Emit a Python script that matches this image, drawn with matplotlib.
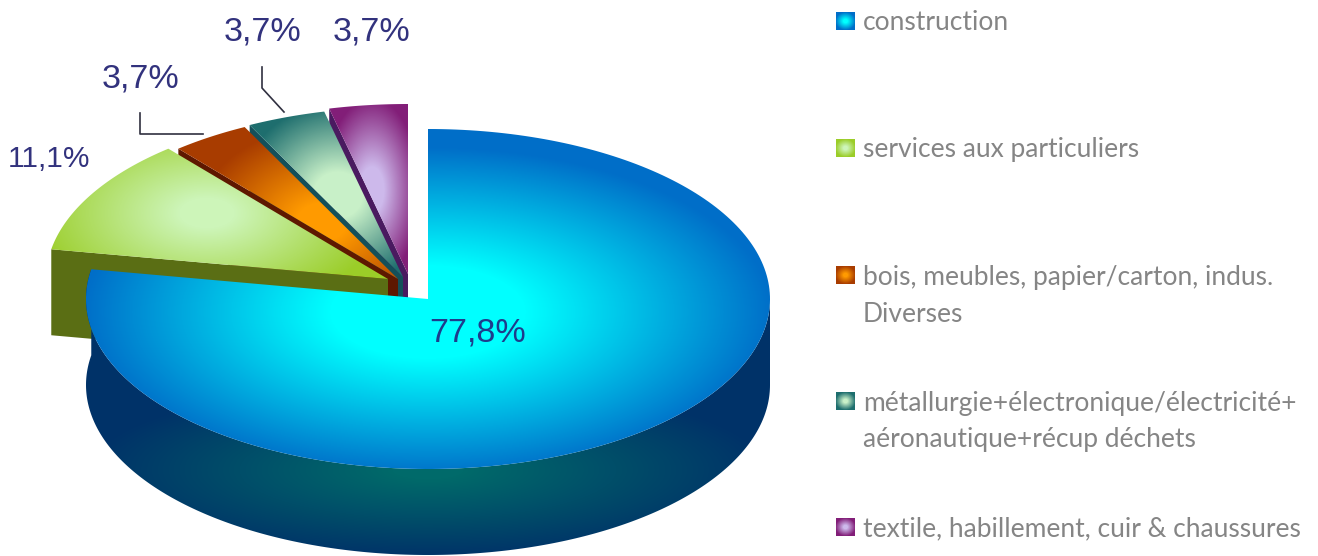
import numpy as np
import matplotlib
matplotlib.use("Agg")
import matplotlib.pyplot as plt
from matplotlib.colors import LinearSegmentedColormap
from matplotlib.patches import Polygon

# ---- data ----
categories = ["construction", "services aux particuliers",
              "bois, meubles, papier/carton, indus.\nDiverses",
              "métallurgie+électronique/électricité+\naéronautique+récup déchets",
              "textile, habillement, cuir & chaussures"]
shares = [77.8, 11.1, 3.7, 3.7, 3.7]
share_labels = ["77,8%", "11,1%", "3,7%", "3,7%", "3,7%"]

# ---- styles ----
inner_cols = ["#00ffff", "#cdf5b9", "#ff9a00", "#c8f0c8", "#cdb9eb"]
outer_cols = ["#006ec8", "#9bcd28", "#a83c00", "#1e6e6e", "#821e78"]
side_cols = ["#5a6e14", "#5e1800", "#14505a", "#4a1a60"]

W, H = 1318, 556
fig = plt.figure(figsize=(W / 100, H / 100), dpi=100, facecolor="white")
ax = fig.add_axes([0, 0, 1, 1])


def grad_face(pts, c0, c1, centre, scale, hold=0.0, z=1):
    """Fill polygon pts with an elliptical gradient from c0 to c1."""
    pts = np.asarray(pts)
    x0, y0 = np.floor(pts.min(axis=0)) - 2
    x1, y1 = np.ceil(pts.max(axis=0)) + 2
    xx, yy = np.meshgrid(np.arange(x0, x1) + .5, np.arange(y0, y1) + .5)
    t = np.hypot((xx - centre[0]) / scale[0], (yy - centre[1]) / scale[1])
    t = np.clip((t - hold) / (1 - hold), 0, 1)
    cmap = LinearSegmentedColormap.from_list("g", [c0, c1])
    im = ax.imshow(t, cmap=cmap, vmin=0, vmax=1, extent=(x0, x1, y1, y0),
                   origin="upper", aspect="auto", zorder=z, interpolation="bilinear")
    poly = Polygon(pts, closed=True, transform=ax.transData, fc="none", ec="none")
    ax.add_patch(poly)
    im.set_clip_path(poly)


def rim(cx, cy, rx, ry, a0, a1):
    th = np.radians(np.linspace(a0, a1, 240))
    return np.column_stack([cx + rx * np.sin(th), cy - ry * np.cos(th)])


bounds = np.cumsum([0] + shares) * 3.6
depth = 86
rx, ry = 342, 170

# exploded wedges, back to front: (tip x, tip y, gradient centre, gradient scale, hold)
geom = {4: (408, 274, (372, 190), (48, 92), 0.25),
        3: (403, 277, (338, 195), (98, 92), 0.25),
        2: (398, 279, (322, 222), (125, 95), 0.2),
        1: (388, 279, (207, 213), (178, 98), 0.15)}
for i in [4, 3, 2, 1]:
    tx, ty, gc, gs, hold = geom[i]
    arc = rim(tx, ty, rx, ry, bounds[i], bounds[i + 1])
    start = arc[0]
    side = [(tx, ty), tuple(start), (start[0], start[1] + depth), (tx, ty + depth)]
    ax.add_patch(Polygon(side, closed=True, fc=side_cols[i - 1], ec="none", zorder=1))
    grad_face(np.vstack([[tx, ty], arc]), inner_cols[i], outer_cols[i], gc, gs, hold, z=1)

# main wedge
cx, cy = 428, 299
arc = rim(cx, cy, rx, ry, bounds[0], bounds[1])
lower = rim(cx, cy, rx, ry, 90, bounds[1])
strip = np.vstack([lower, (lower + [0, depth])[::-1]])
grad_face(strip, "#006a6a", "#003268", (cx, 470), (342, 88), 0.1, z=2)
grad_face(np.vstack([[cx, cy], arc]), inner_cols[0], outer_cols[0], (cx, 312), (345, 165), 0.28, z=3)

# value labels
label_pos = [(478, 333), (49, 159), (141, 79), (263, 32), (372, 32)]
label_cols = ["#1e3c8c"] + ["#32327d"] * 4
label_size = [24.5, 21.5, 24.5, 24.5, 24.5]
for s, (x, y), c, fs in zip(share_labels, label_pos, label_cols, label_size):
    ax.text(x, y, s, ha="center", va="center", fontsize=fs, color=c,
            family="Liberation Sans", zorder=6)

# leader lines
ax.plot([140, 140, 203], [113, 134, 134], color="#303040", lw=1.2, zorder=5)
ax.plot([262, 262, 284], [67, 88, 112], color="#303040", lw=1.2, zorder=5)

# legend
legend_y = [21, 148, 275, 401, 527]
for i, (name, y) in enumerate(zip(categories, legend_y)):
    sw = [(836, y - 9), (855, y - 9), (855, y + 9), (836, y + 9)]
    grad_face(sw, inner_cols[i], outer_cols[i], (845.5, y), (10, 9), 0.2, z=4)
    lines = name.split("\n")
    for k, line in enumerate(lines):
        ax.text(863, y + 2 + k * 37, line, ha="left", va="center", fontsize=19,
                color="#858585", family="Lato", zorder=6)

ax.set_xlim(0, W)
ax.set_ylim(H, 0)
ax.axis("off")
fig.savefig("out.png", dpi=100, facecolor="white")
